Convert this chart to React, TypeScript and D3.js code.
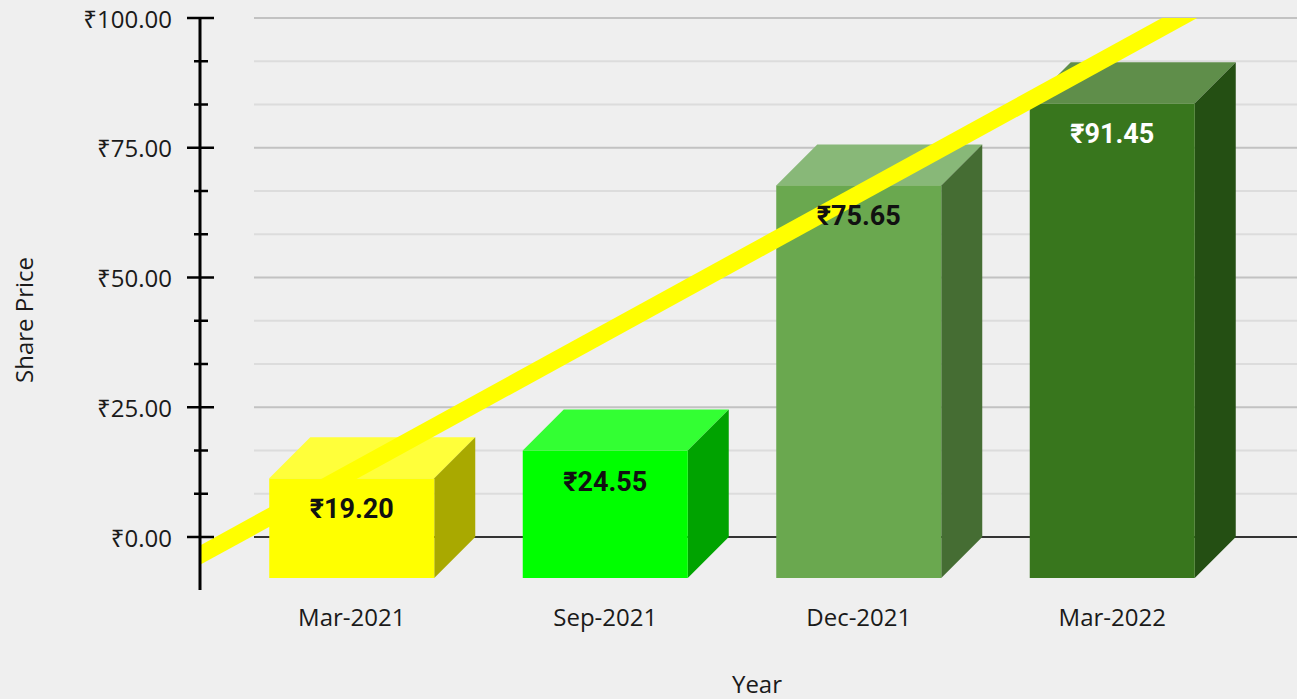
import React from "react";
import * as d3 from "d3";

const categories = ["Mar-2021", "Sep-2021", "Dec-2021", "Mar-2022"];
const values = [19.2, 24.55, 75.65, 91.45];
const valueLabels = ["₹19.20", "₹24.55", "₹75.65", "₹91.45"];
const frontColors = ["#ffff00", "#00ff00", "#6aa84f", "#38761d"];
const topColors = ["#ffff3a", "#33ff33", "#88b878", "#5f8e4a"];
const sideColors = ["#a9a900", "#00a300", "#456d33", "#244f13"];
const labelColors = ["#111111", "#111111", "#111111", "#ffffff"];
const yTicks = [0, 25, 50, 75, 100];
const yTickLabels = ["₹0.00", "₹25.00", "₹50.00", "₹75.00", "₹100.00"];

const W = 1297;
const H = 699;
const AXIS_X = 200;
const DEPTH = 41;
const FONT = "'Open Sans', 'Noto Sans', sans-serif";

export default function App() {
  const y = d3.scaleLinear().domain([0, 100]).range([537, 18]);
  const x = d3.scalePoint<string>().domain(categories).range([225, 1239]).padding(0.5);
  const step = x.step();
  const center = (c: string) => x(c) as number;
  const barW = 165;

  // linear regression trendline over category indices 1..n
  const idx = categories.map((_, i) => i + 1);
  const mx = d3.mean(idx) as number;
  const my = d3.mean(values) as number;
  const slope =
    (d3.sum(idx.map((v, i) => (v - mx) * (values[i] - my))) as number) /
    (d3.sum(idx.map((v) => (v - mx) ** 2)) as number);
  const intercept = my - slope * mx;
  const c0 = center(categories[0]);
  const toIdx = (px: number) => (px - c0) / step + 1;
  const trendPts: [number, number][] = [AXIS_X - 5, W + 5].map((px) => [
    px,
    y(intercept + slope * toIdx(px)),
  ]);
  const trendPath = d3.line()(trendPts) as string;

  const minorTicks = d3.range(0, 100.001, 25 / 3);

  return (
    <svg width={W} height={H} style={{ position: "absolute", left: 0, top: 0, background: "#efefef" }}>
      <rect x={0} y={0} width={W} height={H} fill="#efefef" />
      <defs>
        <clipPath id="plotClip">
          <rect x={AXIS_X + 1} y={y(100)} width={W - AXIS_X} height={600 - y(100)} />
        </clipPath>
      </defs>
      {/* gridlines */}
      {minorTicks.map((t, i) => {
        const major = i % 3 === 0;
        if (t === 0) return null;
        return (
          <line
            key={"g" + i}
            x1={254}
            x2={W}
            y1={y(t)}
            y2={y(t)}
            stroke={major ? "#c2c2c2" : "#dcdcdc"}
            strokeWidth={2}
          />
        );
      })}
      <line x1={254} x2={W} y1={y(0)} y2={y(0)} stroke="#333" strokeWidth={2} />
      {/* bars */}
      {categories.map((c, i) => {
        const cx = center(c);
        const x0 = cx - barW / 2;
        const x1 = cx + barW / 2;
        const yb = y(0) + DEPTH;
        const yt = y(values[i]) + DEPTH;
        return (
          <g key={c}>
            <polygon
              points={`${x0},${yt} ${x0 + DEPTH},${yt - DEPTH} ${x1 + DEPTH},${yt - DEPTH} ${x1},${yt}`}
              fill={topColors[i]}
            />
            <polygon
              points={`${x1},${yt} ${x1 + DEPTH},${yt - DEPTH} ${x1 + DEPTH},${yb - DEPTH} ${x1},${yb}`}
              fill={sideColors[i]}
            />
            <rect x={x0} y={yt} width={barW} height={yb - yt} fill={frontColors[i]} />
          </g>
        );
      })}
      {/* trendline */}
      <path d={trendPath} stroke="#ffff00" strokeWidth={17} fill="none" clipPath="url(#plotClip)" />
      {/* value labels */}
      {categories.map((c, i) => (
        <text
          key={"l" + c}
          x={center(c)}
          y={y(values[i]) + DEPTH + 31}
          textAnchor="middle"
          dominantBaseline="central"
          fontFamily="Roboto, 'Noto Sans', sans-serif"
          fontWeight="bold"
          fontSize={27}
          fill={labelColors[i]}
        >
          {valueLabels[i]}
        </text>
      ))}
      {/* y axis */}
      <line x1={AXIS_X} x2={AXIS_X} y1={y(100)} y2={590} stroke="#000" strokeWidth={3} />
      {minorTicks.map((t, i) => {
        const major = i % 3 === 0;
        return (
          <line
            key={"t" + i}
            x1={major ? 187 : 194}
            x2={major ? 214 : 208}
            y1={y(t)}
            y2={y(t)}
            stroke="#000"
            strokeWidth={2.5}
          />
        );
      })}
      {yTicks.map((t, i) => (
        <text
          key={"yl" + t}
          x={172}
          y={y(t)}
          textAnchor="end"
          dominantBaseline="central"
          fontFamily={FONT}
          fontSize={24}
          fill="#1a1a1a"
        >
          {yTickLabels[i]}
        </text>
      ))}
      {/* x labels */}
      {categories.map((c) => (
        <text
          key={"xl" + c}
          x={center(c)}
          y={626}
          textAnchor="middle"
          fontFamily={FONT}
          fontSize={24}
          fill="#1a1a1a"
        >
          {c}
        </text>
      ))}
      <text x={757} y={693} textAnchor="middle" fontFamily={FONT} fontSize={24} fill="#1a1a1a">
        Year
      </text>
      <text
        transform="translate(33,320) rotate(-90)"
        textAnchor="middle"
        fontFamily={FONT}
        fontSize={24}
        fill="#1a1a1a"
      >
        Share Price
      </text>
    </svg>
  );
}
